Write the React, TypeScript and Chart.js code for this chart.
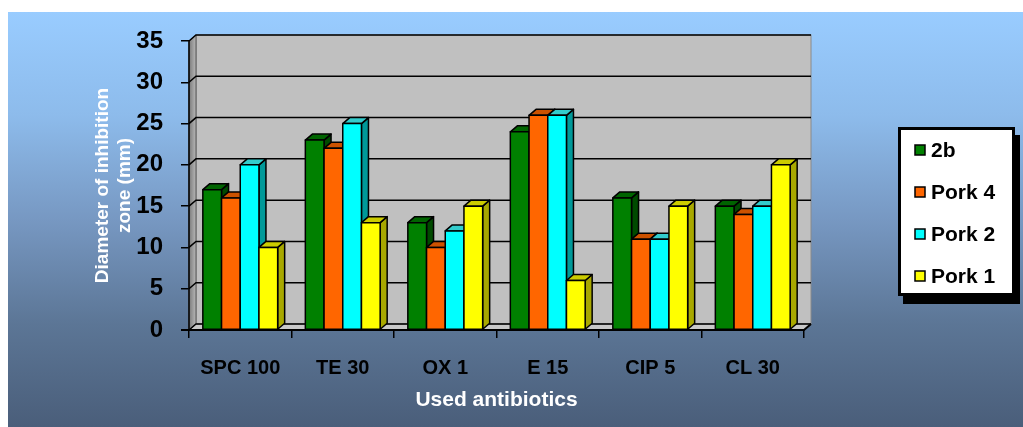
import React, { useEffect, useRef } from "react";
import { Chart, registerables } from "chart.js";

Chart.register(...registerables);

const categories = ["SPC 100", "TE 30", "OX 1", "E 15", "CIP 5", "CL 30"];
const seriesNames = ["2b", "Pork 4", "Pork 2", "Pork 1"];
const values2b = [17, 23, 13, 24, 16, 15];
const valuesPork4 = [16, 22, 10, 26, 11, 14];
const valuesPork2 = [20, 25, 12, 26, 11, 15];
const valuesPork1 = [10, 13, 15, 6, 15, 20];
const yMin = 0;
const yMax = 35;
const yStep = 5;
const yTitle = ["Diameter of inhibition", "zone (mm)"];
const xTitle = "Used antibiotics";

const frontColors = ["#008000", "#FF6600", "#00FFFF", "#FFFF00"];
const topColors = ["#006400", "#CC5200", "#33CCCC", "#CCCC00"];
const sideColors = ["#004A00", "#993D00", "#009999", "#A8A800"];

const FONT = "Arial, 'Liberation Sans', Helvetica, sans-serif";
const DX = 7;
const DY = -6;

const threeD = {
  id: "threeD",
  beforeDraw(chart: any) {
    const { ctx, width, height } = chart;
    ctx.save();
    ctx.fillStyle = "#ffffff";
    ctx.fillRect(0, 0, width, height);
    const g = ctx.createLinearGradient(0, 12, 0, height);
    g.addColorStop(0, "#99CCFF");
    g.addColorStop(0.25, "#8DBBEB");
    g.addColorStop(0.5, "#7798C2");
    g.addColorStop(0.75, "#5C7696");
    g.addColorStop(1, "#4A5E7A");
    ctx.fillStyle = g;
    ctx.fillRect(8, 12, width - 8, height - 12);
    ctx.restore();
  },
  beforeDatasetsDraw(chart: any) {
    const { ctx, chartArea } = chart;
    const { left, right, top, bottom } = chartArea;
    const yScale = chart.scales.y;
    ctx.save();
    // back wall
    ctx.fillStyle = "#C0C0C0";
    ctx.fillRect(left + DX, top + DY, right - left, bottom - top);
    ctx.strokeStyle = "#8A8A8A";
    ctx.lineWidth = 1;
    ctx.strokeRect(left + DX, top + DY, right - left, bottom - top);
    // left wall
    const lg = ctx.createLinearGradient(left, 0, left + DX, 0);
    lg.addColorStop(0, "#7A7A7A");
    lg.addColorStop(1, "#B8B8B8");
    ctx.fillStyle = lg;
    ctx.beginPath();
    ctx.moveTo(left, top);
    ctx.lineTo(left + DX, top + DY);
    ctx.lineTo(left + DX, bottom + DY);
    ctx.lineTo(left, bottom);
    ctx.closePath();
    ctx.fill();
    ctx.strokeStyle = "#555555";
    ctx.stroke();
    // floor
    ctx.fillStyle = "#C8C8C8";
    ctx.beginPath();
    ctx.moveTo(left, bottom);
    ctx.lineTo(left + DX, bottom + DY);
    ctx.lineTo(right + DX, bottom + DY);
    ctx.lineTo(right, bottom);
    ctx.closePath();
    ctx.fill();
    ctx.strokeStyle = "#6A6A6A";
    ctx.stroke();
    // gridlines on walls
    ctx.strokeStyle = "#000000";
    ctx.lineWidth = 1.5;
    for (let v = yMin; v <= yMax; v += yStep) {
      const py = yScale.getPixelForValue(v);
      ctx.beginPath();
      ctx.moveTo(left, py);
      ctx.lineTo(left + DX, py + DY);
      ctx.lineTo(right + DX, py + DY);
      ctx.stroke();
    }
    // axis lines
    ctx.strokeStyle = "#000000";
    ctx.lineWidth = 1.5;
    ctx.beginPath();
    ctx.moveTo(left, top);
    ctx.lineTo(left, bottom);
    ctx.stroke();
    ctx.lineWidth = 2;
    ctx.beginPath();
    ctx.moveTo(left - 8, bottom);
    ctx.lineTo(right, bottom);
    ctx.lineTo(right + DX, bottom + DY);
    ctx.stroke();
    ctx.restore();
  },
  beforeDatasetDraw() {
    return false;
  },
  afterDatasetsDraw(chart: any) {
    const { ctx } = chart;
    ctx.save();
    ctx.lineWidth = 1.5;
    ctx.strokeStyle = "#000000";
    ctx.lineJoin = "round";
    const n = chart.data.labels.length;
    for (let i = 0; i < n; i++) {
      for (let d = 0; d < chart.data.datasets.length; d++) {
        const el = chart.getDatasetMeta(d).data[i];
        const { x, y, base, width } = el.getProps(["x", "y", "base", "width"], true);
        const l = x - width / 2;
        const r = x + width / 2;
        // side
        ctx.fillStyle = sideColors[d];
        ctx.beginPath();
        ctx.moveTo(r, y);
        ctx.lineTo(r + DX, y + DY);
        ctx.lineTo(r + DX, base + DY);
        ctx.lineTo(r, base);
        ctx.closePath();
        ctx.fill();
        ctx.stroke();
        // top
        ctx.fillStyle = topColors[d];
        ctx.beginPath();
        ctx.moveTo(l, y);
        ctx.lineTo(l + DX, y + DY);
        ctx.lineTo(r + DX, y + DY);
        ctx.lineTo(r, y);
        ctx.closePath();
        ctx.fill();
        ctx.stroke();
        // front
        ctx.fillStyle = frontColors[d];
        ctx.fillRect(l, y, r - l, base - y);
        ctx.strokeRect(l, y, r - l, base - y);
      }
    }
    ctx.restore();
  },
  afterDraw(chart: any) {
    const { ctx } = chart;
    ctx.save();
    const bx = 898, by = 127, bw = 117, bh = 169;
    ctx.fillStyle = "#000000";
    ctx.fillRect(bx + 5, by + 8, bw, bh);
    ctx.fillStyle = "#FFFFFF";
    ctx.fillRect(bx, by, bw, bh);
    ctx.strokeStyle = "#000000";
    ctx.lineWidth = 3;
    ctx.strokeRect(bx + 1.5, by + 1.5, bw - 3, bh - 3);
    ctx.font = `bold 21px ${FONT}`;
    ctx.textBaseline = "middle";
    ctx.textAlign = "left";
    chart.data.datasets.forEach((ds: any, k: number) => {
      const cy = 150 + k * 42;
      ctx.fillStyle = ds.backgroundColor;
      ctx.fillRect(915, cy - 5, 10, 10);
      ctx.lineWidth = 1.5;
      ctx.strokeRect(915, cy - 5, 10, 10);
      ctx.fillStyle = "#000000";
      ctx.fillText(ds.label, 931, cy + 1);
    });
    ctx.restore();
  },
};

export default function App() {
  const ref = useRef<HTMLCanvasElement | null>(null);
  useEffect(() => {
    if (!ref.current) return;
    const allValues = [values2b, valuesPork4, valuesPork2, valuesPork1];
    const chart = new Chart(ref.current, {
      type: "bar",
      data: {
        labels: categories,
        datasets: seriesNames.map((name, k) => ({
          label: name,
          data: allValues[k],
          backgroundColor: frontColors[k],
          borderColor: "#000000",
          borderWidth: 1.5,
          categoryPercentage: 0.73,
          barPercentage: 1.0,
        })),
      },
      options: {
        responsive: false,
        animation: false,
        devicePixelRatio: 1,
        layout: { padding: { left: 90, right: 219, top: 41, bottom: 0 } },
        plugins: {
          legend: { display: false },
          tooltip: { enabled: false },
        },
        scales: {
          x: {
            afterFit: (s: any) => {
              s.height = 97;
            },
            border: { display: false },
            grid: {
              display: true,
              drawOnChartArea: false,
              drawTicks: true,
              tickLength: 8,
              color: "#000000",
              lineWidth: 1.5,
            },
            ticks: {
              color: "#000000",
              font: { family: FONT, size: 20, weight: "bold" },
              padding: 18,
              maxRotation: 0,
            },
            title: {
              display: true,
              text: xTitle,
              color: "#FFFFFF",
              font: { family: FONT, size: 21, weight: "bold", lineHeight: 1.2 },
              padding: { top: 0, bottom: 14 },
            },
          },
          y: {
            min: yMin,
            max: yMax,
            afterFit: (s: any) => {
              s.width = 99;
            },
            border: { display: false },
            grid: {
              display: true,
              drawOnChartArea: false,
              drawTicks: true,
              tickLength: 8,
              color: "#000000",
              lineWidth: 1.5,
            },
            ticks: {
              stepSize: yStep,
              color: "#000000",
              font: { family: FONT, size: 24, weight: "bold" },
              padding: 18,
            },
            title: {
              display: true,
              text: yTitle,
              color: "#FFFFFF",
              font: { family: FONT, size: 19, weight: "bold", lineHeight: 1.15 },
              padding: { top: 2, bottom: 0 },
            },
          },
        },
      },
      plugins: [threeD],
    } as any);
    return () => chart.destroy();
  }, []);
  return (
    <div style={{ position: "fixed", left: 0, top: 0, width: 1023, height: 427 }}>
      <canvas ref={ref} width={1023} height={427} style={{ display: "block" }} />
    </div>
  );
}
